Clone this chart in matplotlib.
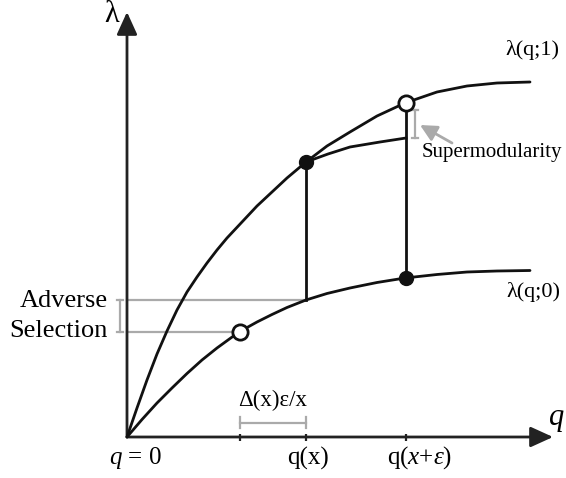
import matplotlib
matplotlib.use("Agg")
import matplotlib.pyplot as plt

plt.rcParams['font.family'] = ['Liberation Serif', 'DejaVu Serif']
plt.rcParams['mathtext.fontset'] = 'custom'
plt.rcParams['mathtext.rm'] = 'Liberation Serif'
plt.rcParams['mathtext.it'] = 'Liberation Serif:italic'

# schematic curves (q, lambda)
q_high = [0, 10, 20, 30, 40, 50, 60, 70, 80, 90, 100, 115, 130, 145, 160, 179,
          200, 223, 250, 278, 310, 340, 370, 403]
lam_high = [0, 29, 57, 83, 106, 127, 145, 160, 174, 187, 199, 215, 231, 245, 259, 275,
            291, 305, 321, 334, 345, 351, 354, 355]

q_low = [0, 15, 30, 45, 60, 75, 90, 112, 130, 145, 160, 179, 200, 223, 250, 278,
         310, 340, 370, 403]
lam_low = [0, 17.5, 34, 49, 63.5, 77, 89, 105, 115, 122.5, 129.5, 137, 143.5, 149, 154.5, 159,
           162.5, 165, 166, 166.5]

q_mid = [179, 190, 201, 212, 223, 238, 253, 266, 279]
lam_mid = [275, 279, 283, 286.5, 290, 292.5, 295, 297, 299]

# special points
q_ticks = [113, 179, 279]
tick_labels = ["$q$ = 0", "q(x)", "q($x$+$\\varepsilon$)"]
label_x = [8, 181, 293]
filled_q = [179, 279]
filled_lam = [275, 159]
open_q = [113, 279]
open_lam = [105, 334]

black = '#111111'
gray = '#aaaaaa'

fig = plt.figure(figsize=(5.66, 4.78), dpi=100)
ax = fig.add_axes([0, 0, 1, 1])
ax.set_xlim(-127, 439)
ax.set_ylim(-41, 437)
ax.axis('off')

# axes with arrows
arrow_style = '-|>,head_length=0.55,head_width=0.25'
ax.annotate('', xy=(0, 425), xytext=(0, 0),
            arrowprops=dict(arrowstyle=arrow_style, lw=2, color='#222222',
                            mutation_scale=25, shrinkA=0, shrinkB=0))
ax.annotate('', xy=(426, 0), xytext=(0, 0),
            arrowprops=dict(arrowstyle=arrow_style, lw=2, color='#222222',
                            mutation_scale=25, shrinkA=0, shrinkB=0))
for qt in q_ticks:
    ax.plot([qt, qt], [-3.5, 3.5], color='#222222', lw=1.6, solid_capstyle='butt')

# gray guides
ax.plot([0, q_ticks[1]], [137, 137], color=gray, lw=1.6, zorder=1)
ax.plot([0, open_q[0]], [open_lam[0], open_lam[0]], color=gray, lw=1.6, zorder=1)

# curves
ax.plot(q_high, lam_high, color=black, lw=2, solid_capstyle='round', solid_joinstyle='round', zorder=3)
ax.plot(q_low, lam_low, color=black, lw=2, solid_capstyle='round', solid_joinstyle='round', zorder=3)
ax.plot(q_mid, lam_mid, color=black, lw=2, solid_joinstyle='round', zorder=3)
ax.plot([filled_q[0], filled_q[0]], [137, filled_lam[0]], color=black, lw=2, zorder=3)
ax.plot([filled_q[1], filled_q[1]], [filled_lam[1], open_lam[1]], color=black, lw=2, zorder=3)

ax.plot(filled_q, filled_lam, 'o', color=black, ms=10, zorder=5)
ax.plot(open_q, open_lam, 'o', mfc='white', mec=black, mew=2, ms=11, zorder=5)

# brackets
def bracket_v(x, y0, y1):
    ax.plot([x, x], [y0, y1], color=gray, lw=1.6)
    ax.plot([x - 3, x + 3], [y0, y0], color=gray, lw=1.6)
    ax.plot([x - 3, x + 3], [y1, y1], color=gray, lw=1.6)

bracket_v(-6.5, open_lam[0], 137)
bracket_v(288, lam_mid[-1], 327)
ax.plot([q_ticks[0], q_ticks[1]], [14.5, 14.5], color=gray, lw=1.6)
for qt in q_ticks[:2]:
    ax.plot([qt, qt], [9, 20], color=gray, lw=1.6)

ax.annotate('', xy=(293, 312), xytext=(325, 294),
            arrowprops=dict(arrowstyle='-|>,head_length=0.5,head_width=0.25',
                            lw=2, color=gray, mutation_scale=20, shrinkA=0, shrinkB=0))

# text
ax.text(-15, 423, 'λ', fontsize=22, ha='center', va='center')
ax.text(429, 17, '$q$', fontsize=22, ha='center', va='center')
ax.text(405, 387, 'λ(q;1)', fontsize=16, ha='center', va='center')
ax.text(406, 145, 'λ(q;0)', fontsize=16, ha='center', va='center')
ax.text(295, 285, 'Supermodularity', fontsize=15, ha='left', va='center')
ax.text(-19, 121, 'Adverse\nSelection', fontsize=19, ha='right', va='center',
        multialignment='right', linespacing=1.45)
ax.text(146, 37, 'Δ(x)ε/x', fontsize=16.5, ha='center', va='center')
for lx, lab in zip(label_x, tick_labels):
    ax.text(lx, -21, lab, fontsize=18, ha='center', va='center')

fig.savefig('out.png', dpi=100)
